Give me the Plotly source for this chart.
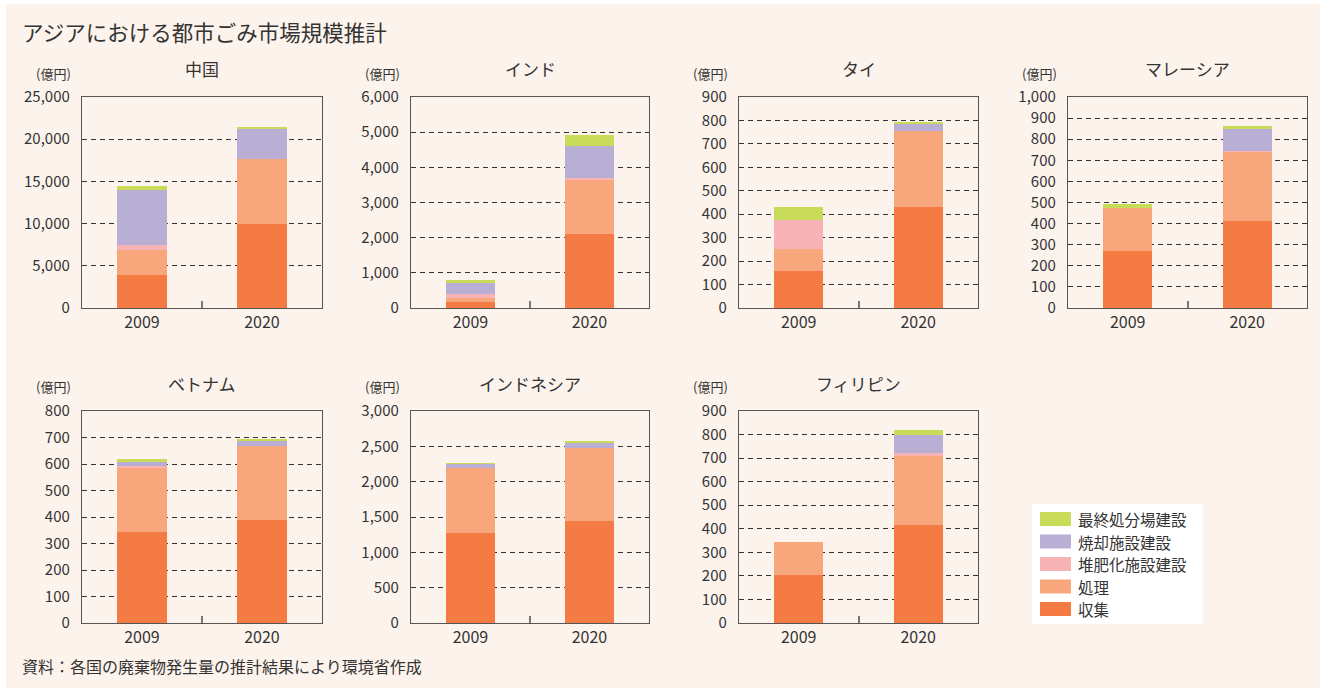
import plotly.graph_objects as go

# ---------------- data ----------------
countries = ["中国", "インド", "タイ", "マレーシア", "ベトナム", "インドネシア", "フィリピン"]
years = ["2009", "2020"]
series_names = ["収集", "処理", "堆肥化施設建設", "焼却施設建設", "最終処分場建設"]
series_colors = ["#f47c44", "#f7a77b", "#f8b3b7", "#b9aed4", "#c8dc5a"]

# values in 億円, per country: [2009, 2020]
collection = [[3950, 10000], [180, 2110], [159, 431], [271, 413], [342, 387], [1269, 1439], [202, 416]]
processing = [[2950, 7600], [115, 1530], [93, 323], [205, 329], [245, 280], [920, 1033], [140, 292]]
composting = [[580, 0], [110, 65], [124, 0], [0, 2], [4, 0], [0, 0], [0, 12]]
incineration = [[6500, 3550], [310, 900], [0, 34], [0, 105], [18, 22], [61, 89], [0, 77]]
landfill = [[470, 250], [85, 310], [55, 6], [17, 14], [9, 4], [9, 10], [0, 21]]

y_max = [25000, 6000, 900, 1000, 800, 3000, 900]
y_step = [5000, 1000, 100, 100, 100, 500, 100]

title_text = "アジアにおける都市ごみ市場規模推計"
source_text = "資料：各国の廃棄物発生量の推計結果により環境省作成"
unit_text = "(億円)"

series_values = [collection, processing, composting, incineration, landfill]

# ---------------- layout geometry ----------------
W, H = 1320, 691
FONT = "Noto Sans CJK JP"
TXT = "#333333"
col_left = [82, 411, 739, 1068]
col_right = [322, 649, 978, 1307]
row_top = [97, 411]
row_bot = [308, 623]

fig = go.Figure()
layout = dict(
    width=W, height=H,
    margin=dict(l=0, r=0, t=0, b=0, pad=0, autoexpand=False),
    paper_bgcolor="white",
    plot_bgcolor="white",
    barmode="stack",
    bargap=0.59,
    showlegend=False,
    font=dict(family=FONT, color=TXT, size=15),
)
annotations = []
shapes = [
    dict(type="rect", xref="paper", yref="paper", x0=6 / W, x1=1.0, y0=1 - 688 / H, y1=1 - 4 / H,
         fillcolor="#fdf3ed", line=dict(width=0), layer="below"),
]

xpos = list(range(len(years)))
for i, country in enumerate(countries):
    r, c = (0, i) if i < 4 else (1, i - 4)
    k = i + 1
    xa = "x" if k == 1 else f"x{k}"
    ya = "y" if k == 1 else f"y{k}"
    for s, name in enumerate(series_names):
        fig.add_trace(go.Bar(
            x=xpos, y=series_values[s][i], name=name,
            marker=dict(color=series_colors[s], line=dict(width=0)),
            xaxis=xa, yaxis=ya, showlegend=False,
            hovertemplate=country + " %{x}<br>" + name + ": %{y}<extra></extra>",
        ))
    l, rr = col_left[c] / W, col_right[c] / W
    b, t = 1 - row_bot[r] / H, 1 - row_top[r] / H
    layout["xaxis" if k == 1 else f"xaxis{k}"] = dict(
        domain=[l, rr], anchor=ya, range=[-0.5, len(years) - 0.5],
        tickmode="array", tickvals=xpos, ticktext=years,
        showgrid=False, zeroline=False, automargin=False,
        showline=True, mirror=True, linecolor="#555555", linewidth=1.3,
        ticks="", tickfont=dict(size=16, color=TXT), ticklabelstandoff=0,
        minor=dict(tickmode="array", tickvals=[0.5], ticks="inside", ticklen=7,
                   tickcolor="#777777", tickwidth=1.5),
        fixedrange=True,
    )
    layout["yaxis" if k == 1 else f"yaxis{k}"] = dict(
        domain=[b, t], anchor=xa, range=[0, y_max[i]],
        tickmode="linear", tick0=0, dtick=y_step[i], tickformat=",d",
        showgrid=True, gridcolor="#333333", gridwidth=1, griddash="5px,4px",
        zeroline=False, automargin=False,
        showline=True, mirror=True, linecolor="#555555", linewidth=1.3,
        ticks="", tickfont=dict(size=15, color=TXT), ticklabelstandoff=8,
        fixedrange=True,
    )
    # subplot title
    annotations.append(dict(
        text=country, xref="paper", yref="paper",
        x=(col_left[c] + col_right[c]) / 2 / W, y=1 - (row_top[r] - 28) / H,
        xanchor="center", yanchor="middle", showarrow=False,
        font=dict(size=17, color=TXT, family=FONT),
    ))
    # unit label
    annotations.append(dict(
        text=unit_text, xref="paper", yref="paper",
        x=(col_left[c] - 9) / W, y=1 - (row_top[r] - 24) / H,
        xanchor="right", yanchor="middle", showarrow=False,
        font=dict(size=13, color=TXT, family=FONT),
    ))

# title and source
annotations.append(dict(
    text=title_text, xref="paper", yref="paper", x=20 / W, y=1 - 31 / H,
    xanchor="left", yanchor="middle", showarrow=False,
    font=dict(size=21.5, color=TXT, family=FONT),
))
annotations.append(dict(
    text=source_text, xref="paper", yref="paper", x=20 / W, y=1 - 666 / H,
    xanchor="left", yanchor="middle", showarrow=False,
    font=dict(size=16, color=TXT, family=FONT),
))

# legend (drawn manually to match the reference's wide swatches)
leg_x0, leg_x1, leg_y0, leg_y1 = 1032, 1203, 504, 624
shapes.append(dict(type="rect", xref="paper", yref="paper",
                   x0=leg_x0 / W, x1=leg_x1 / W, y0=1 - leg_y1 / H, y1=1 - leg_y0 / H,
                   fillcolor="white", line=dict(width=0)))
legend_order = list(range(len(series_names)))[::-1]
for j, s in enumerate(legend_order):
    yc = 519 + j * 22.5
    shapes.append(dict(type="rect", xref="paper", yref="paper",
                       x0=1040 / W, x1=1071 / W, y0=1 - (yc + 7) / H, y1=1 - (yc - 7) / H,
                       fillcolor=series_colors[s], line=dict(width=0)))
    annotations.append(dict(
        text=series_names[s], xref="paper", yref="paper", x=1076 / W, y=1 - yc / H,
        xanchor="left", yanchor="middle", showarrow=False,
        font=dict(size=15.5, color=TXT, family=FONT),
    ))

layout["annotations"] = annotations
layout["shapes"] = shapes
fig.update_layout(**layout)

page_fix = (
    "var gd=document.getElementById('{plot_id}');"
    "gd.style.position='absolute';gd.style.top='0px';gd.style.left='0px';"
    "document.body.style.margin='0';"
    "document.documentElement.style.overflow='hidden';"
    "document.body.style.overflow='hidden';"
)
fig.write_html("out.html", config={"displayModeBar": False}, post_script=page_fix)
